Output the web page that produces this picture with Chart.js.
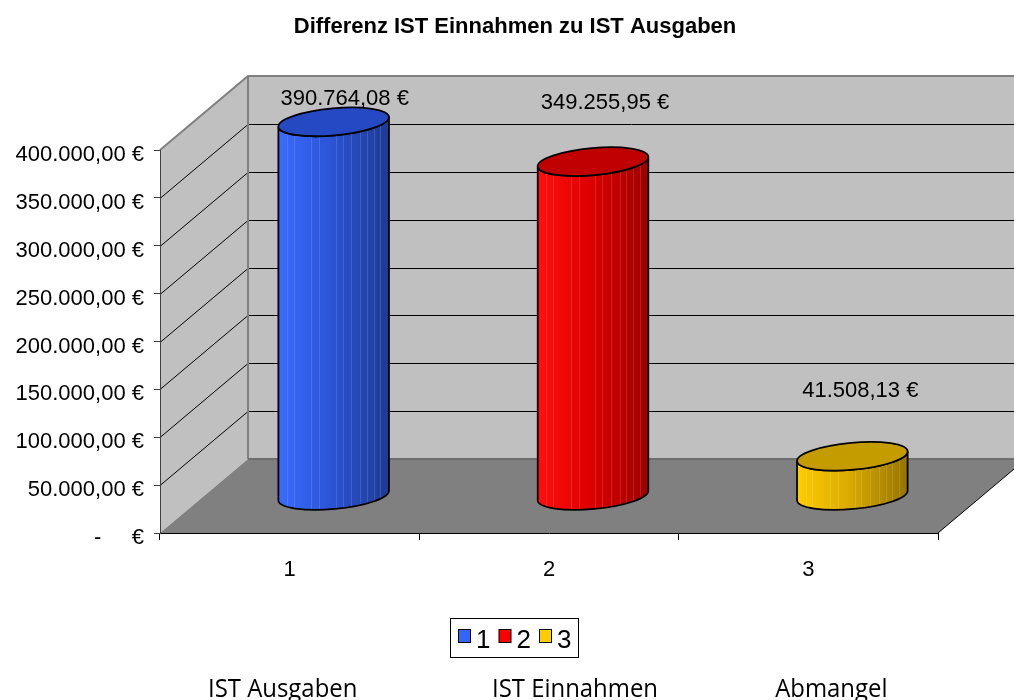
<!DOCTYPE html>
<html>
<head>
<meta charset="utf-8">
<script src="https://cdn.jsdelivr.net/npm/chart.js@4"></script>
<style>
  html, body { margin: 0; padding: 0; background: #fff; overflow: hidden; }
  canvas { display: block; }
</style>
</head>
<body>
<canvas id="chart" width="1014" height="700"></canvas>
<script>
const categories = ['1', '2', '3'];
const values = [390764.08, 349255.95, 41508.13];
const rowNames = ['IST Ausgaben', 'IST Einnahmen', 'Abmangel'];
const legendLabels = ['1', '2', '3'];
const chartTitle = 'Differenz IST Einnahmen zu IST Ausgaben';
const yMax = 400000;
const yStep = 50000;

// look of the 3d box and the cylinders
const DEPTH_X = 88;
const DEPTH_Y = -74;
const bodyColors = [
    ['#3a6cff', '#2c55d8', '#1d3a94'],
    ['#ff1010', '#e00000', '#9c0000'],
    ['#ffcc00', '#dcac00', '#967400']
];
const topColors = ['#2549c2', '#c00000', '#c49c00'];
const legendColors = ['#3366ff', '#ff0000', '#ffcc00'];
const labelShift = [[11, -23], [12, -59], [8, -65]];
const rowNameShift = [-7, 26, 23];

function euro(v) {
    const parts = v.toFixed(2).split('.');
    return parts[0].replace(/\B(?=(\d{3})+(?!\d))/g, '.') + ',' + parts[1] + ' €';
}

function drawBox(chart) {
    const ctx = chart.ctx;
    const y = chart.scales.y;
    const a = chart.chartArea;
    const L = a.left, R = a.right, T = y.getPixelForValue(yMax), B = y.getPixelForValue(0);
    ctx.save();
    // back wall
    ctx.fillStyle = '#c0c0c0';
    ctx.fillRect(L + DEPTH_X, T + DEPTH_Y, R - L + 10, B - T);
    // left wall
    ctx.beginPath();
    ctx.moveTo(L, T);
    ctx.lineTo(L + DEPTH_X, T + DEPTH_Y);
    ctx.lineTo(L + DEPTH_X, B + DEPTH_Y);
    ctx.lineTo(L, B);
    ctx.closePath();
    ctx.fill();
    // floor
    ctx.fillStyle = '#808080';
    ctx.beginPath();
    ctx.moveTo(L, B);
    ctx.lineTo(L + DEPTH_X, B + DEPTH_Y);
    ctx.lineTo(R + DEPTH_X, B + DEPTH_Y);
    ctx.lineTo(R, B);
    ctx.closePath();
    ctx.fill();

    // grid lines on both walls
    ctx.lineWidth = 1;
    ctx.strokeStyle = '#000';
    for (let v = yStep; v < yMax; v += yStep) {
        const p = Math.round(y.getPixelForValue(v)) + 0.5;
        ctx.beginPath();
        ctx.moveTo(L, p);
        ctx.lineTo(L + DEPTH_X, p + DEPTH_Y);
        ctx.lineTo(R + DEPTH_X + 10, p + DEPTH_Y);
        ctx.stroke();
    }
    // wall edges
    ctx.strokeStyle = '#808080';
    ctx.lineWidth = 2;
    ctx.beginPath();
    ctx.moveTo(L, T);
    ctx.lineTo(L + DEPTH_X, T + DEPTH_Y);
    ctx.lineTo(R + DEPTH_X + 10, T + DEPTH_Y);
    ctx.moveTo(L + DEPTH_X, T + DEPTH_Y);
    ctx.lineTo(L + DEPTH_X, B + DEPTH_Y);
    ctx.stroke();
    ctx.strokeStyle = '#6e6e6e';
    ctx.beginPath();
    ctx.moveTo(L + DEPTH_X, B + DEPTH_Y);
    ctx.lineTo(R + DEPTH_X + 10, B + DEPTH_Y);
    ctx.stroke();
    ctx.strokeStyle = '#000';
    ctx.lineWidth = 1;
    ctx.beginPath();
    ctx.moveTo(R, B);
    ctx.lineTo(R + DEPTH_X, B + DEPTH_Y);
    ctx.stroke();
    ctx.restore();
}

function bodyPath(ctx, cx, topY, baseY, ra, rb, th) {
    const c = Math.cos(th), s = Math.sin(th);
    ctx.beginPath();
    ctx.moveTo(cx - ra * c, topY - ra * s);
    ctx.lineTo(cx - ra * c, baseY - ra * s);
    ctx.ellipse(cx, baseY, ra, rb, th, Math.PI, 0, true);
    ctx.lineTo(cx + ra * c, topY + ra * s);
    ctx.ellipse(cx, topY, ra, rb, th, 0, Math.PI, false);
    ctx.closePath();
}

function drawCylinder(ctx, cx, topY, baseY, ra, rb, i) {
    const th = -0.09;
    const grad = ctx.createLinearGradient(cx - ra, 0, cx + ra, 0);
    grad.addColorStop(0, bodyColors[i][0]);
    grad.addColorStop(0.45, bodyColors[i][1]);
    grad.addColorStop(1, bodyColors[i][2]);

    ctx.save();
    bodyPath(ctx, cx, topY, baseY, ra, rb, th);
    ctx.fillStyle = grad;
    ctx.fill();

    // facet lines
    ctx.save();
    ctx.clip();
    ctx.strokeStyle = 'rgba(255,255,255,0.13)';
    ctx.lineWidth = 1;
    [0.08, 0.14, 0.3, 0.37, 0.52, 0.58, 0.66, 0.74, 0.8, 0.86, 0.92].forEach(f => {
        const x = Math.round(cx - ra + f * 2 * ra) + 0.5;
        ctx.beginPath();
        ctx.moveTo(x, topY - 20);
        ctx.lineTo(x, baseY + 20);
        ctx.stroke();
    });
    ctx.restore();

    ctx.strokeStyle = '#000';
    ctx.lineWidth = 1.8;
    bodyPath(ctx, cx, topY, baseY, ra, rb, th);
    ctx.stroke();

    ctx.beginPath();
    ctx.ellipse(cx, topY, ra, rb, th, 0, Math.PI * 2);
    ctx.fillStyle = topColors[i];
    ctx.fill();
    ctx.stroke();
    ctx.restore();
}

const scene3d = {
    id: 'scene3d',
    beforeDraw(chart) {
        drawBox(chart);
    },
    afterDatasetsDraw(chart) {
        const ctx = chart.ctx;
        const meta = chart.getDatasetMeta(0);
        meta.data.forEach((bar, i) => {
            const cx = bar.x + DEPTH_X / 2;
            const topY = bar.y + DEPTH_Y / 2;
            const baseY = bar.base + DEPTH_Y / 2;
            drawCylinder(ctx, cx, topY, baseY, bar.width / 2, 13.5, i);
        });
        ctx.save();
        ctx.font = '22px "Liberation Sans", Arial, sans-serif';
        ctx.fillStyle = '#000';
        ctx.textAlign = 'center';
        ctx.textBaseline = 'middle';
        meta.data.forEach((bar, i) => {
            ctx.fillText(euro(values[i]),
                bar.x + DEPTH_X / 2 + labelShift[i][0],
                bar.y + DEPTH_Y / 2 + labelShift[i][1]);
        });
        ctx.restore();
    },
    afterDraw(chart) {
        const ctx = chart.ctx;
        ctx.save();
        // title
        ctx.fillStyle = '#000';
        ctx.font = 'bold 22px "Liberation Sans", Arial, sans-serif';
        ctx.textAlign = 'center';
        ctx.textBaseline = 'middle';
        ctx.fillText(chartTitle, 515, 27);
        // legend box
        ctx.strokeStyle = '#000';
        ctx.lineWidth = 1;
        ctx.strokeRect(450.5, 618.5, 128, 39);
        ctx.font = '26px "Liberation Sans", Arial, sans-serif';
        ctx.textAlign = 'left';
        let x = 458;
        legendLabels.forEach((lab, i) => {
            ctx.fillStyle = legendColors[i];
            ctx.fillRect(x + 0.5, 629.5, 12, 13);
            ctx.strokeRect(x + 0.5, 629.5, 12, 13);
            ctx.fillStyle = '#000';
            ctx.fillText(lab, x + 18, 641);
            x += 40.5;
        });
        // row names under the chart
        ctx.font = '26px "Open Sans", sans-serif';
        ctx.textAlign = 'center';
        ctx.textBaseline = 'alphabetic';
        const xs = chart.scales.x;
        rowNames.forEach((name, i) => {
            const cx = xs.getPixelForValue(i) + rowNameShift[i];
            ctx.save();
            ctx.translate(cx, 697);
            ctx.scale(0.92, 1);
            ctx.fillText(name, 0, 0);
            ctx.restore();
        });
        ctx.restore();
    }
};

new Chart(document.getElementById('chart').getContext('2d'), {
    type: 'bar',
    data: {
        labels: categories,
        datasets: [{
            label: 'Differenz',
            data: values,
            backgroundColor: 'rgba(0,0,0,0)',
            borderWidth: 0,
            barPercentage: 0.428,
            categoryPercentage: 1
        }]
    },
    options: {
        responsive: false,
        animation: false,
        layout: { padding: { left: 0, right: 76, top: 150, bottom: 0 } },
        plugins: {
            legend: { display: false },
            tooltip: { enabled: false },
            title: { display: false }
        },
        scales: {
            x: {
                offset: true,
                grid: { offset: true, drawOnChartArea: false, tickLength: 7, color: '#000' },
                border: { display: true, color: '#000' },
                ticks: {
                    color: '#000',
                    padding: 17,
                    font: { family: '"Liberation Sans", Arial, sans-serif', size: 22 }
                },
                afterFit(scale) { scale.height = 167; }
            },
            y: {
                min: 0,
                max: yMax,
                grid: { drawOnChartArea: false, tickLength: 6, color: '#404040' },
                border: { display: true, color: '#404040' },
                ticks: {
                    stepSize: yStep,
                    color: '#000',
                    padding: 10,
                    labelOffset: 5,
                    font: { family: '"Liberation Sans", Arial, sans-serif', size: 22 },
                    callback: v => v === 0 ? '-     €' : euro(v)
                },
                afterFit(scale) { scale.width = 160; }
            }
        }
    },
    plugins: [scene3d]
});
</script>
</body>
</html>
